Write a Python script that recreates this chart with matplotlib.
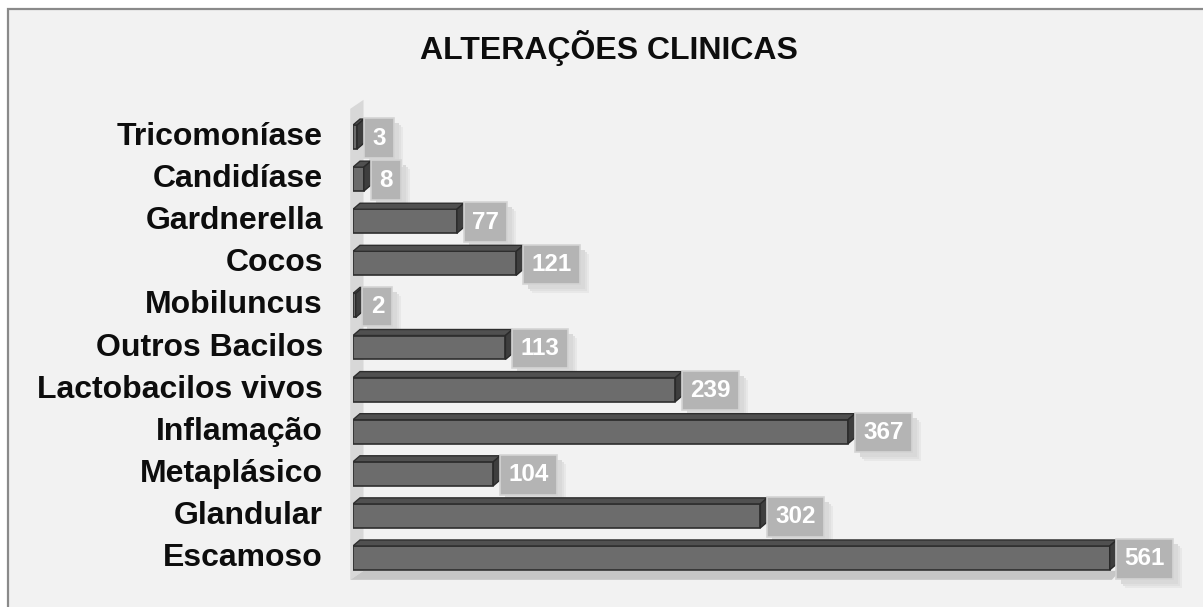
import matplotlib
matplotlib.use('Agg')
import matplotlib.pyplot as plt
from matplotlib.patches import Polygon, Rectangle
from matplotlib.transforms import IdentityTransform

plt.rcParams['font.family'] = ['Liberation Sans', 'DejaVu Sans']

categories = ['Escamoso', 'Glandular', 'Metaplásico', 'Inflamação',
              'Lactobacilos vivos', 'Outros Bacilos', 'Mobiluncus', 'Cocos',
              'Gardnerella', 'Candidíase', 'Tricomoníase']
values = [561, 302, 104, 367, 239, 113, 2, 121, 77, 8, 3]
title = 'ALTERAÇÕES CLINICAS'

W, H = 1203, 607
fig = plt.figure(figsize=(W / 100, H / 100), dpi=100)
fig.patch.set_facecolor('white')

# chart area frame (right / bottom edges run off the picture)
fig.patches.append(Rectangle((8 / W, -0.1), 1.2, (H - 9) / H + 0.1,
                             transform=fig.transFigure, facecolor='#f2f2f2',
                             edgecolor='#8a8a8a', lw=1.6, zorder=-5))

ax = fig.add_axes([353 / W, 28 / H, (1190 - 353) / W, 463 / H])
ax.set_zorder(2)
ax.set_xlim(0, 620.5)
ax.set_ylim(-0.5, len(categories) - 0.5)
ax.axis('off')

# 3d depth in data units (7 px right, 6 px up)
x0, y0 = ax.transData.inverted().transform((0, 0))
x1, y1 = ax.transData.inverted().transform((7, 6))
dx, dy = x1 - x0, y1 - y0

h = 0.57
ypos = list(range(len(categories)))

# side wall and floor
ytop = len(categories) - 0.33
ybot = -0.52
ax.add_patch(Polygon([(-0.4 * dx, ybot), (1.5 * dx, ybot + 1.5 * dy),
                      (1.5 * dx, ytop + 1.5 * dy), (-0.4 * dx, ytop)],
                     closed=True, facecolor='#d8d8d8', edgecolor='none',
                     zorder=1, clip_on=False))
ax.add_patch(Polygon([(-0.4 * dx, ybot), (max(values) + 0.3 * dx, ybot),
                      (max(values) + 1.5 * dx, ybot + 1.5 * dy),
                      (1.5 * dx, ybot + 1.5 * dy)],
                     closed=True, facecolor='#c6c6c6', edgecolor='none', zorder=1,
                     clip_on=False))

ax.barh(ypos, values, height=h, color='#6c6c6c', edgecolor='#2e2e2e',
        linewidth=1.2, zorder=3)

labels = []
for y, v in zip(ypos, values):
    yt = y + h / 2
    yb = y - h / 2
    ax.add_patch(Polygon([(0, yt), (v, yt), (v + dx, yt + dy), (dx, yt + dy)],
                         closed=True, facecolor='#505050', edgecolor='#2e2e2e',
                         lw=1.0, zorder=3))
    ax.add_patch(Polygon([(v, yb), (v, yt), (v + dx, yt + dy), (v + dx, yb + dy)],
                         closed=True, facecolor='#3e3e3e', edgecolor='#2a2a2a',
                         lw=1.0, zorder=3))
    t = ax.annotate(str(v), xy=(v, y), xytext=(15, -1), textcoords='offset pixels',
                    ha='left', va='center', fontsize=17.5, fontweight='bold',
                    color='white', zorder=5,
                    bbox=dict(boxstyle='square,pad=0.34', facecolor='#b4b4b4',
                              edgecolor='#d4d4d4', lw=1.2))
    labels.append(t)

for y, c in zip(ypos, categories):
    ax.annotate(c, xy=(0, y), xytext=(-30, 0), textcoords='offset pixels',
                ha='right', va='center', fontsize=23, fontweight='bold',
                color='#0d0d0d', annotation_clip=False)

fig.text(609 / W, 1 - 48 / H, title, ha='center', va='center',
         fontsize=23, fontweight='bold', color='#0d0d0d')

# soft shadows behind the label boxes (under the bars)
fig.canvas.draw()
r = fig.canvas.get_renderer()
for t in labels:
    bb = t.get_bbox_patch().get_window_extent(r)
    for k, (off, col) in enumerate([(9, '#e8e8e8'), (7, '#e0e0e0'), (5, '#d9d9d9')]):
        ax.add_patch(Rectangle((bb.x0 + off, bb.y0 - off), bb.width, bb.height,
                               transform=IdentityTransform(), facecolor=col,
                               edgecolor='none', zorder=2, clip_on=False))

fig.savefig('out.png', dpi=100)
